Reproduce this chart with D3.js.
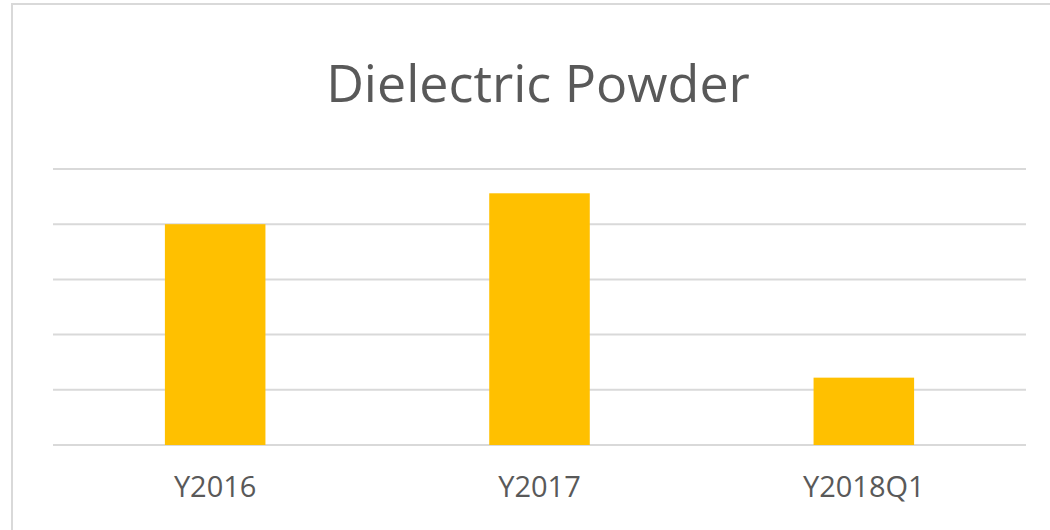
<!DOCTYPE html>
<html>
<head>
<meta charset="utf-8">
<script src="https://cdn.jsdelivr.net/npm/d3@7"></script>
<style>
  body { margin: 0; background: #fff; }
  text { font-family: "Open Sans", sans-serif; fill: #595959; }
</style>
</head>
<body>
<div id="container"></div>
<script>
var categories = ["Y2016", "Y2017", "Y2018Q1"];
var values = [4.0, 4.56, 1.22];
var gridTicks = [0, 1, 2, 3, 4, 5];
var title = "Dielectric Powder";

var W = 1050, H = 530;
var margin = {top: 169, right: 24, bottom: 85, left: 53},
    width = W - margin.left - margin.right,
    height = H - margin.top - margin.bottom;

var svg = d3.select("#container")
    .append("svg")
        .attr("width", W)
        .attr("height", H);

// chart frame
svg.append("rect")
    .attr("x", 12).attr("y", 4)
    .attr("width", W + 20).attr("height", H + 20)
    .attr("fill", "#fff")
    .attr("stroke", "#d9d9d9")
    .attr("stroke-width", 2);

svg.append("text")
    .attr("x", 538)
    .attr("y", 102)
    .attr("text-anchor", "middle")
    .style("font-size", "52px")
    .text(title);

var g = svg.append("g")
    .attr("transform", "translate(" + margin.left + "," + margin.top + ")");

var x = d3.scaleBand()
    .domain(categories)
    .range([0, width])
    .paddingInner(0.69)
    .paddingOuter(0.345);

var y = d3.scaleLinear()
    .domain([0, 5])
    .range([height, 0]);

// gridlines
g.selectAll(".grid")
    .data(gridTicks)
    .enter()
    .append("line")
    .attr("x1", 0)
    .attr("x2", width)
    .attr("y1", function(d) { return y(d); })
    .attr("y2", function(d) { return y(d); })
    .attr("stroke", "#d9d9d9")
    .attr("stroke-width", 2);

g.selectAll(".bar")
    .data(values)
    .enter()
    .append("rect")
    .attr("x", function(d, i) { return x(categories[i]); })
    .attr("y", function(d) { return y(d); })
    .attr("width", x.bandwidth())
    .attr("height", function(d) { return height - y(d); })
    .attr("fill", "#ffc000");

var xAxis = g.append("g")
    .attr("transform", "translate(0," + height + ")")
    .call(d3.axisBottom(x).tickSize(0).tickPadding(0));
xAxis.select(".domain").remove();
xAxis.selectAll("text")
    .attr("dy", null)
    .attr("y", 52)
    .style("font-size", "29px")
    .style("font-family", "\"Open Sans\", sans-serif")
    .attr("fill", "#595959");
</script>
</body>
</html>
